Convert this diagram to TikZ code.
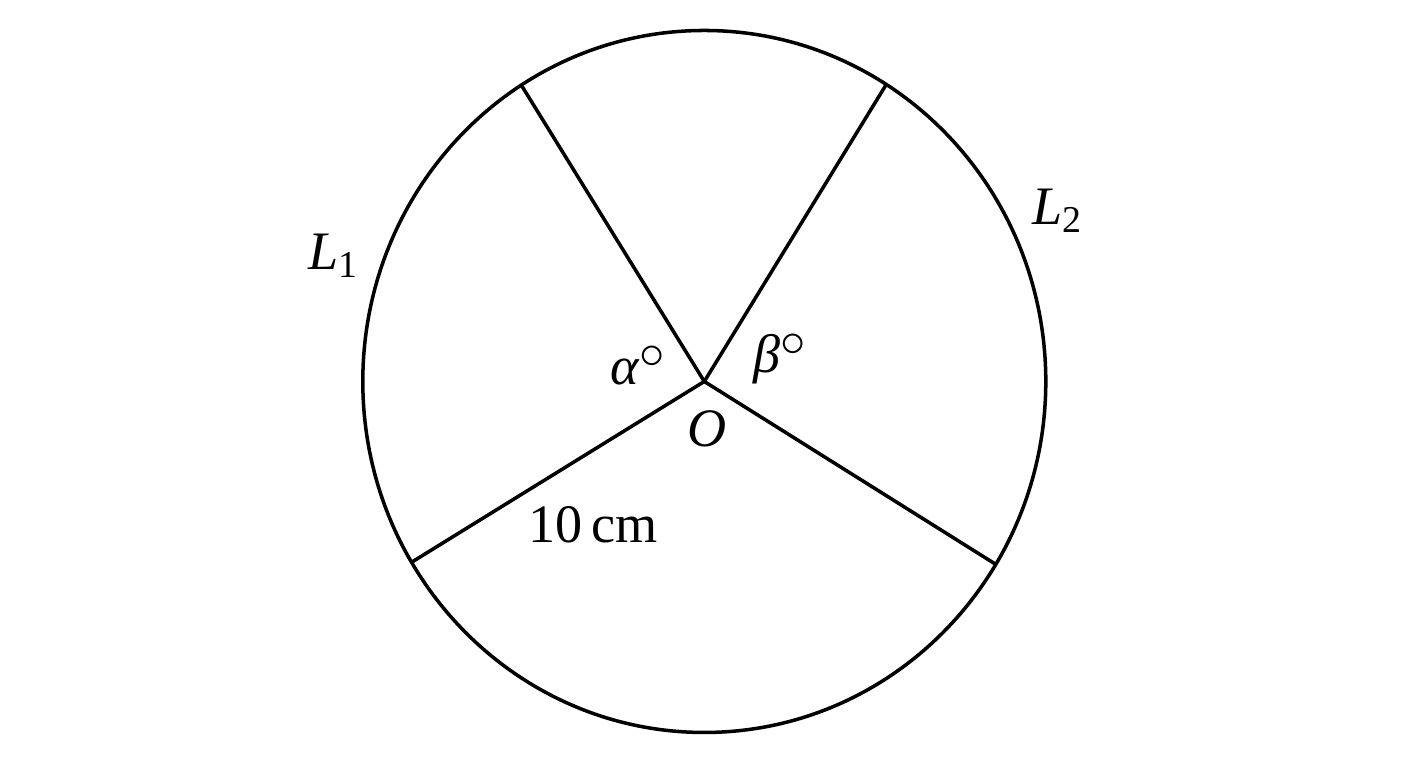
\documentclass[tikz,border=0pt]{standalone}
\usepackage{fontspec}
\setmainfont{Liberation Serif}
\usetikzlibrary{calc}
\newcommand{\degmark}{\raisebox{0.3em}{$\circ$}}
\tikzset{%
  % Specifications for style of the drawing:
  rim/.style = {line width=1pt},
  spoke/.style = {line width=1pt},
  tag/.style = {inner sep=0pt, anchor=base west, font=\fontsize{15.4}{18}\selectfont}
}

\begin{document}
\begin{tikzpicture}[x=0.01cm, y=0.01cm]
  \useasboundingbox (0,0) rectangle (1408,768);
  \coordinate (O) at (704.3,386.5);
  \draw[rim] (O) ellipse [x radius=341.5, y radius=351];

  \coordinate (ul) at ($(O)+(122.4:341.5 and 351)$);
  \coordinate (ur) at ($(O)+(57.8:341.5 and 351)$);
  \coordinate (ll) at ($(O)+(211:341.5 and 351)$);
  \coordinate (lr) at ($(O)+(-31.4:341.5 and 351)$);
  \foreach \e in {ul,ur,ll,lr}
    \draw[spoke] (O) -- (\e);

  \node (lone)  [tag] at (308,498) {\itshape L\textsubscript{\upshape 1}};
  \node (ltwo)  [tag] at (1032,543) {\itshape L\textsubscript{\upshape 2}};
  \node (alpha) [tag] at (610,383) {\itshape α\degmark};
  \node (beta)  [tag] at (753,395) {\itshape β\degmark};
  \node (olab)  [tag] at (687,321) {\itshape O};
  \node (len)   [tag] at (528,225) {10\,cm};
\end{tikzpicture}
\end{document}
